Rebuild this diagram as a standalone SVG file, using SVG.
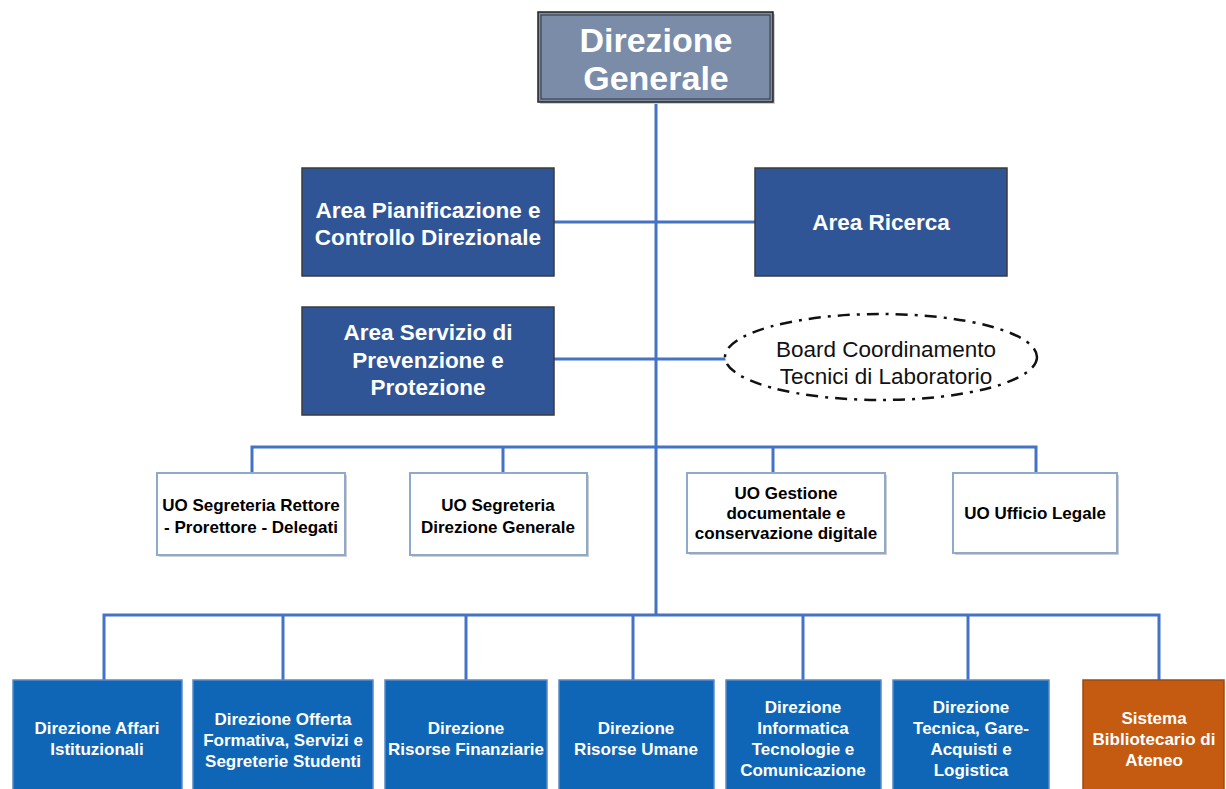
<svg xmlns="http://www.w3.org/2000/svg" width="1226" height="789" viewBox="0 0 1226 789">
<defs>
<style>
.conn{stroke:#4472c4;stroke-width:3;fill:none}
.area{fill:#2f5597;stroke:#3b3b3b;stroke-width:1.5}
.uo{fill:#ffffff;stroke:#8eaacb;stroke-width:2}
.dir{fill:#0f66b6;stroke:#5a8bc6;stroke-width:1.5}
.bib{fill:#c55a11;stroke:#9a4a15;stroke-width:1.5}
.shadow{fill:#cfcfcf}
.tA{font-family:"Liberation Sans",Arial,sans-serif;font-weight:bold;font-size:22.5px;fill:#ffffff;text-anchor:middle}
.tG{font-family:"Liberation Sans",Arial,sans-serif;font-weight:bold;font-size:34px;fill:#ffffff;text-anchor:middle}
.tU{font-family:"Liberation Sans",Arial,sans-serif;font-weight:bold;font-size:17px;fill:#000000;text-anchor:middle}
.tD{font-family:"Liberation Sans",Arial,sans-serif;font-weight:bold;font-size:17px;fill:#ffffff;text-anchor:middle}
.tB{font-family:"Liberation Sans",Arial,sans-serif;font-size:22.5px;fill:#111111;text-anchor:middle}
</style>
</defs>
<rect width="1226" height="789" fill="#ffffff"/>
<g id="connectors">
<line class="conn" x1="656" y1="102" x2="656" y2="615"/>
<line class="conn" x1="554" y1="222" x2="755" y2="222"/>
<line class="conn" x1="554" y1="359" x2="726" y2="359"/>
<polyline class="conn" points="252,473 252,447 1036,447 1036,473"/>
<line class="conn" x1="503" y1="447" x2="503" y2="473"/>
<line class="conn" x1="773" y1="447" x2="773" y2="473"/>
<polyline class="conn" points="104,680 104,615 1159,615 1159,680"/>
<line class="conn" x1="283" y1="615" x2="283" y2="680"/>
<line class="conn" x1="466" y1="615" x2="466" y2="680"/>
<line class="conn" x1="633" y1="615" x2="633" y2="680"/>
<line class="conn" x1="803" y1="615" x2="803" y2="680"/>
<line class="conn" x1="968" y1="615" x2="968" y2="680"/>
</g>
<g id="direzione-generale">
<rect x="540" y="14" width="235" height="90" class="shadow"/>
<rect x="538" y="12" width="235" height="90" fill="#7b8ca8" stroke="#222" stroke-width="1.5"/>
<rect x="541" y="15" width="229" height="84" fill="none" stroke="#333" stroke-width="1"/>
<text class="tG" x="656" y="52">Direzione</text>
<text class="tG" x="656" y="90">Generale</text>
</g>
<g id="area-pianificazione">
<rect x="302" y="168" width="252" height="108" class="area"/>
<text class="tA" x="428" y="218">Area Pianificazione e</text>
<text class="tA" x="428" y="245">Controllo Direzionale</text>
</g>
<g id="area-ricerca">
<rect x="755" y="168" width="252" height="108" class="area"/>
<text class="tA" x="881" y="230">Area Ricerca</text>
</g>
<g id="area-servizio">
<rect x="302" y="307" width="252" height="108" class="area"/>
<text class="tA" x="428" y="340">Area Servizio di</text>
<text class="tA" x="428" y="368">Prevenzione e</text>
<text class="tA" x="428" y="395">Protezione</text>
</g>
<g id="board">
<ellipse cx="881" cy="357" rx="156" ry="43" fill="#ffffff" stroke="#111" stroke-width="2.5" stroke-dasharray="12,7,3,7"/>
<text class="tB" x="886" y="357">Board Coordinamento</text>
<text class="tB" x="886" y="384">Tecnici di Laboratorio</text>
</g>
<g id="uo-rettore">
<rect x="159" y="475" width="188" height="82" class="shadow"/>
<rect x="157" y="473" width="188" height="82" class="uo"/>
<text class="tU" x="251" y="511">UO Segreteria Rettore</text>
<text class="tU" x="251" y="533">- Prorettore - Delegati</text>
</g>
<g id="uo-segreteria-dg">
<rect x="412" y="475" width="177" height="82" class="shadow"/>
<rect x="410" y="473" width="177" height="82" class="uo"/>
<text class="tU" x="498" y="511">UO Segreteria</text>
<text class="tU" x="498" y="533">Direzione Generale</text>
</g>
<g id="uo-gestione">
<rect x="689" y="475" width="198" height="80" class="shadow"/>
<rect x="687" y="473" width="198" height="80" class="uo"/>
<text class="tU" x="786" y="499">UO Gestione</text>
<text class="tU" x="786" y="519">documentale e</text>
<text class="tU" x="786" y="539">conservazione digitale</text>
</g>
<g id="uo-legale">
<rect x="955" y="475" width="164" height="80" class="shadow"/>
<rect x="953" y="473" width="164" height="80" class="uo"/>
<text class="tU" x="1035" y="519">UO Ufficio Legale</text>
</g>
<g id="dir-affari">
<rect x="13" y="680" width="169" height="115" class="dir"/>
<text class="tD" x="97" y="734">Direzione Affari</text>
<text class="tD" x="97" y="755">Istituzionali</text>
</g>
<g id="dir-offerta">
<rect x="193" y="680" width="180" height="115" class="dir"/>
<text class="tD" x="283" y="725">Direzione Offerta</text>
<text class="tD" x="283" y="746">Formativa, Servizi e</text>
<text class="tD" x="283" y="767">Segreterie Studenti</text>
</g>
<g id="dir-finanziarie">
<rect x="385" y="680" width="162" height="115" class="dir"/>
<text class="tD" x="466" y="734">Direzione</text>
<text class="tD" x="466" y="755">Risorse Finanziarie</text>
</g>
<g id="dir-umane">
<rect x="559" y="680" width="155" height="115" class="dir"/>
<text class="tD" x="636" y="734">Direzione</text>
<text class="tD" x="636" y="755">Risorse Umane</text>
</g>
<g id="dir-informatica">
<rect x="726" y="680" width="155" height="115" class="dir"/>
<text class="tD" x="803" y="713">Direzione</text>
<text class="tD" x="803" y="734">Informatica</text>
<text class="tD" x="803" y="755">Tecnologie e</text>
<text class="tD" x="803" y="776">Comunicazione</text>
</g>
<g id="dir-tecnica">
<rect x="893" y="680" width="156" height="115" class="dir"/>
<text class="tD" x="971" y="713">Direzione</text>
<text class="tD" x="971" y="734">Tecnica, Gare-</text>
<text class="tD" x="971" y="755">Acquisti e</text>
<text class="tD" x="971" y="776">Logistica</text>
</g>
<g id="sistema-bibliotecario">
<rect x="1083" y="680" width="141" height="115" class="bib"/>
<text class="tD" x="1154" y="724">Sistema</text>
<text class="tD" x="1154" y="745">Bibliotecario di</text>
<text class="tD" x="1154" y="766">Ateneo</text>
</g>
</svg>
